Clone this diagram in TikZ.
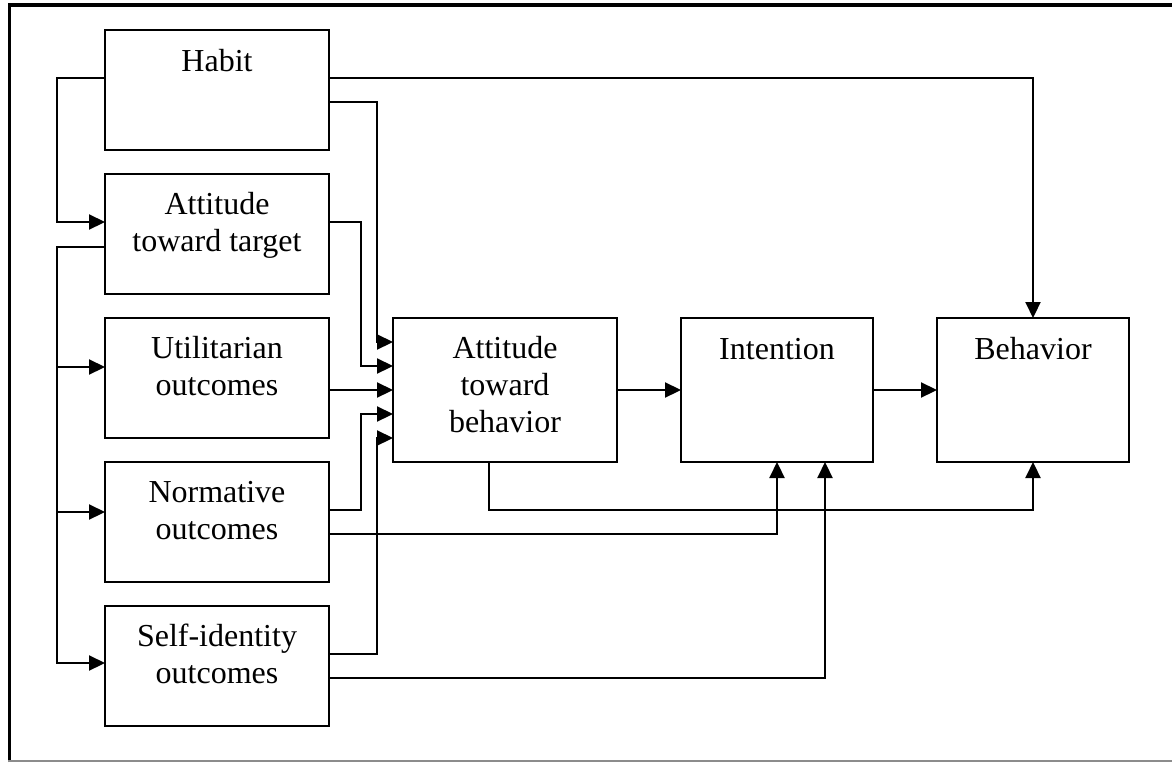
\documentclass[tikz,border=0pt]{standalone}
\usepackage{fontspec}
\setmainfont{Liberation Serif}
\usetikzlibrary{arrows.meta}
% centred lines whose baseline is the baseline of the first line
\newcommand\boxlines[1]{\begin{tabular}[t]{@{}c@{}}#1\end{tabular}}
\begin{document}
\begin{tikzpicture}[x=1pt,y=-1pt,
  box/.style={draw, line width=2.2pt, inner sep=0pt, outer sep=0pt},
  leftbox/.style={box, minimum width=224pt, minimum height=120pt},
  mainbox/.style={box, minimum height=144pt},
  caption/.style={anchor=base, inner sep=0pt, outer sep=0pt,
                  font=\fontsize{32}{37}\selectfont},
  arr/.style={line width=2.2pt, -{Triangle[length=16pt,width=15pt]}}]
\useasboundingbox (0,0) rectangle (1172,771);

% frame
\draw[line width=3.2pt] (9.5,762) -- (9.5,5) -- (1172,5);
\draw[black!45, line width=1.5pt] (8,761) -- (1172,761);

% antecedent boxes
\node[leftbox] (hab)  at (217,90)  {};
\node[leftbox] (tgt)  at (217,234) {};
\node[leftbox] (util) at (217,378) {};
\node[leftbox] (norm) at (217,522) {};
\node[leftbox] (self) at (217,666) {};

% main chain
\node[mainbox, minimum width=224pt] (atb) at (505,390)  {};
\node[mainbox, minimum width=192pt] (int) at (777,390)  {};
\node[mainbox, minimum width=192pt] (beh) at (1033,390) {};

% box texts
\node[caption] (hab-t)  at ([yshift=-41pt]hab.north)  {\boxlines{Habit}};
\node[caption] (tgt-t)  at ([yshift=-40pt]tgt.north)  {\boxlines{Attitude\\toward target}};
\node[caption] (util-t) at ([yshift=-40pt]util.north) {\boxlines{Utilitarian\\outcomes}};
\node[caption] (norm-t) at ([yshift=-40pt]norm.north) {\boxlines{Normative\\outcomes}};
\node[caption] (self-t) at ([yshift=-40pt]self.north) {\boxlines{Self-identity\\outcomes}};
\node[caption] (atb-t)  at ([yshift=-40pt]atb.north)  {\boxlines{Attitude\\toward\\behavior}};
\node[caption] (int-t)  at ([yshift=-41pt]int.north)  {\boxlines{Intention}};
\node[caption] (beh-t)  at ([yshift=-41pt]beh.north)  {\boxlines{Behavior}};

% left-hand feed lines
\draw[arr] ([yshift=12pt]hab.west) -| ([xshift=-48pt,yshift=12pt]tgt.west) -- ([yshift=12pt]tgt.west);
\draw[arr] ([yshift=-13pt]tgt.west) -| ([xshift=-48pt,yshift=3pt]self.west) -- ([yshift=3pt]self.west);
\draw[arr] ([xshift=-48pt,yshift=11pt]util.west) -- ([yshift=11pt]util.west);
\draw[arr] ([xshift=-48pt,yshift=10pt]norm.west) -- ([yshift=10pt]norm.west);

% into attitude toward behavior
\draw[arr] ([yshift=-12pt]hab.east) -| ([xshift=-16pt,yshift=48pt]atb.west) -- ([yshift=48pt]atb.west);
\draw[arr] ([yshift=12pt]tgt.east) -| ([xshift=-32pt,yshift=24pt]atb.west) -- ([yshift=24pt]atb.west);
\draw[arr] ([yshift=-12pt]util.east) -- (atb.west);
\draw[arr] ([yshift=12pt]norm.east) -| ([xshift=-32pt,yshift=-24pt]atb.west) -- ([yshift=-24pt]atb.west);
\draw[arr] ([yshift=12pt]self.east) -| ([xshift=-16pt,yshift=-48pt]atb.west) -- ([yshift=-48pt]atb.west);

% into intention and behavior
\draw[arr] ([yshift=-12pt]norm.east) -| (int.south);
\draw[arr] ([yshift=-12pt]self.east) -| ([xshift=48pt]int.south);
\draw[arr] (atb.east) -- (int.west);
\draw[arr] (int.east) -- (beh.west);
\draw[arr] ([xshift=-16pt]atb.south) |- ([yshift=-48pt]beh.south) -- (beh.south);
\draw[arr] ([yshift=12pt]hab.east) -| (beh.north);
\end{tikzpicture}
\end{document}
